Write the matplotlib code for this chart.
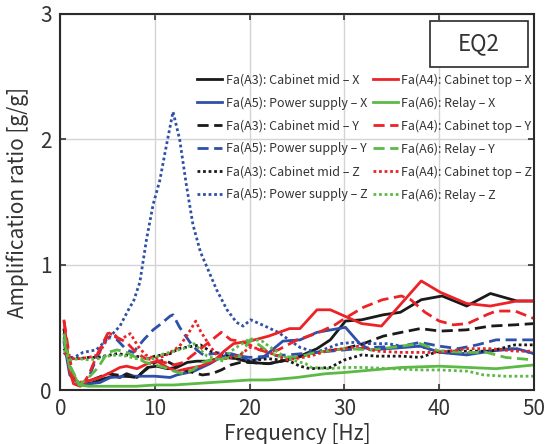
import matplotlib
matplotlib.use("Agg")
import matplotlib.pyplot as plt
from matplotlib.patches import Rectangle

plt.rcParams.update({
    "font.family": ["Noto Sans CJK KR", "DejaVu Sans"],
    "font.size": 12,
    "text.color": "#333333",
    "axes.labelcolor": "#333333",
    "xtick.color": "#333333",
    "ytick.color": "#333333",
})

BLACK = "#1a1a1a"
RED = "#ec2227"
BLUE = "#2f4fa8"
GREEN = "#5cb946"

# A3 cabinet mid
f_a3x = [0.4, 1, 2, 3.5, 4.6, 5.6, 6.3, 7, 8.1, 9.2, 10.2, 11.3, 12.3, 13.4, 14.4, 15.5, 17.3, 18.7,
         20, 22, 24, 25.3, 27.1, 28.5, 30.1, 31.8, 34.1, 35.9, 38.1, 40.3, 42.9, 45.4, 48.2, 50]
a3x = [0.48, 0.15, 0.04, 0.06, 0.09, 0.11, 0.10, 0.13, 0.10, 0.18, 0.19, 0.17, 0.18, 0.22, 0.23, 0.23,
       0.26, 0.25, 0.22, 0.21, 0.24, 0.27, 0.33, 0.40, 0.55, 0.56, 0.60, 0.62, 0.72, 0.75, 0.67, 0.77, 0.71, 0.71]
f_a3y = [0.4, 1, 2, 3, 4, 5, 6, 7, 8, 9, 10, 11, 12, 13, 14, 15, 16, 17, 18, 19, 20, 22, 24, 27, 30, 32,
         34.1, 36, 38, 40.1, 42.9, 45.4, 48, 50]
a3y = [0.45, 0.18, 0.05, 0.07, 0.10, 0.13, 0.12, 0.11, 0.10, 0.16, 0.22, 0.24, 0.20, 0.16, 0.14, 0.12, 0.13,
       0.16, 0.20, 0.22, 0.22, 0.21, 0.24, 0.30, 0.33, 0.37, 0.43, 0.46, 0.49, 0.47, 0.48, 0.51, 0.52, 0.53]
f_a3z = [0.4, 1, 2, 3, 4, 4.6, 6, 7, 8, 9.2, 10, 11.6, 12.5, 14, 14.8, 15.8, 16.9, 18, 19.7, 22, 24.2,
         25.3, 26.4, 28.5, 30, 31.8, 33.4, 36, 38, 40, 42.9, 45.4, 48, 50]
a3z = [0.33, 0.26, 0.25, 0.26, 0.26, 0.27, 0.29, 0.28, 0.27, 0.25, 0.27, 0.29, 0.33, 0.35, 0.36, 0.31, 0.29,
       0.26, 0.23, 0.25, 0.23, 0.19, 0.17, 0.18, 0.24, 0.28, 0.27, 0.27, 0.26, 0.31, 0.31, 0.31, 0.36, 0.36]

# A4 cabinet top
f_a4x = [0.4, 1, 1.4, 2.1, 2.8, 4.2, 5.3, 6.3, 7, 8.1, 9.2, 10.2, 11.3, 12.3, 13.4, 14.8, 16.2, 17.3, 18.3,
         20, 22, 24.2, 25.3, 27.1, 28.5, 31.8, 33.9, 38.1, 40.1, 42.9, 45.4, 48.2, 50]
a4x = [0.55, 0.15, 0.05, 0.03, 0.07, 0.10, 0.14, 0.18, 0.19, 0.17, 0.21, 0.23, 0.18, 0.15, 0.17, 0.19, 0.23,
       0.31, 0.37, 0.39, 0.43, 0.49, 0.49, 0.64, 0.64, 0.53, 0.51, 0.87, 0.78, 0.69, 0.67, 0.71, 0.71]
f_a4y = [0.4, 1, 1.5, 2.5, 3, 4, 5, 5.5, 6, 7, 8, 9, 10, 11, 12, 13, 14, 15, 16, 17, 18, 19, 20, 21, 22,
         23, 25, 27, 29, 30, 32, 34, 36, 37, 38.5, 40, 41.5, 43, 45, 46, 48, 50]
a4y = [0.55, 0.25, 0.07, 0.06, 0.12, 0.30, 0.45, 0.46, 0.42, 0.38, 0.30, 0.25, 0.24, 0.22, 0.20, 0.22, 0.28,
       0.34, 0.40, 0.46, 0.40, 0.39, 0.36, 0.32, 0.30, 0.32, 0.40, 0.45, 0.52, 0.57, 0.66, 0.72, 0.75, 0.72,
       0.62, 0.55, 0.52, 0.53, 0.60, 0.63, 0.63, 0.57]
f_a4z = [0.4, 1, 2, 3, 4, 5.3, 6.3, 7.4, 8.2, 9, 10, 11, 11.6, 12.6, 13.5, 14.3, 14.8, 15.8, 16.5, 17.5,
         19, 20, 21, 22, 24, 26.4, 28.5, 30.1, 31.5, 33.4, 36, 38, 40, 42.9, 45.4, 48, 50]
a4z = [0.30, 0.25, 0.25, 0.26, 0.28, 0.45, 0.40, 0.45, 0.35, 0.28, 0.25, 0.27, 0.30, 0.35, 0.45, 0.55, 0.47,
       0.35, 0.28, 0.25, 0.28, 0.34, 0.33, 0.30, 0.24, 0.27, 0.32, 0.33, 0.35, 0.31, 0.30, 0.30, 0.30, 0.33,
       0.33, 0.31, 0.31]

# A5 power supply
f_a5x = [0.4, 1, 2.1, 4.2, 5.3, 7, 8.8, 10, 11.6, 12.3, 14.1, 15.8, 16.9, 18, 19, 20, 21.4, 23.5, 25.3,
         27.1, 30.1, 31.6, 32.7, 34.6, 38, 40.1, 42.9, 45.4, 48.2, 50]
a5x = [0.38, 0.12, 0.04, 0.06, 0.10, 0.11, 0.11, 0.11, 0.10, 0.12, 0.15, 0.21, 0.26, 0.29, 0.27, 0.23, 0.26,
       0.39, 0.40, 0.46, 0.50, 0.37, 0.32, 0.33, 0.35, 0.30, 0.28, 0.31, 0.33, 0.29]
f_a5y = [0.4, 1, 2, 2.8, 3.8, 4.9, 6.0, 7.0, 7.7, 8.8, 9.8, 10.5, 11.6, 11.9, 12.6, 13.7, 14.4, 15.1, 16.2,
         17.2, 18, 20, 22, 24, 27, 30, 33, 36, 38, 40, 42, 44, 46, 48, 50]
a5y = [0.42, 0.15, 0.05, 0.06, 0.25, 0.42, 0.40, 0.32, 0.30, 0.40, 0.48, 0.52, 0.59, 0.60, 0.50, 0.38, 0.32,
       0.28, 0.29, 0.30, 0.28, 0.26, 0.27, 0.28, 0.30, 0.32, 0.34, 0.35, 0.38, 0.35, 0.33, 0.36, 0.40, 0.40, 0.40]
f_a5z = [0.4, 1, 2.4, 3.8, 5.3, 6.3, 7.4, 7.7, 8.4, 9.1, 9.8, 10.5, 11.2, 11.9, 12.6, 13.3, 14.0, 14.8,
         15.6, 16.5, 17.6, 18.6, 19.3, 20.1, 21.6, 23, 25.3, 27, 29.5, 31, 32.7, 34.6, 36, 38, 40, 43,
         45.4, 48, 50]
a5z = [0.30, 0.24, 0.30, 0.32, 0.43, 0.51, 0.67, 0.70, 0.86, 1.20, 1.48, 1.67, 1.95, 2.22, 2.00, 1.64, 1.32,
       1.10, 0.96, 0.80, 0.64, 0.54, 0.51, 0.56, 0.51, 0.46, 0.34, 0.30, 0.37, 0.38, 0.37, 0.37, 0.35, 0.35,
       0.30, 0.29, 0.32, 0.33, 0.29]

# A6 relay
f_a6x = [0.4, 1, 2, 3, 5, 8, 10, 12, 14, 16, 18, 20, 22, 25, 28, 30, 33, 36, 40, 43, 46, 50]
a6x = [0.40, 0.18, 0.04, 0.03, 0.03, 0.03, 0.04, 0.04, 0.05, 0.06, 0.07, 0.08, 0.08, 0.10, 0.13, 0.14, 0.16,
       0.18, 0.19, 0.18, 0.17, 0.20]
f_a6y = [0.4, 1, 2, 3, 4, 5, 6, 7, 8, 9, 10, 11, 12, 13, 14, 15, 16, 17, 18, 19, 20, 21, 22, 23, 25, 27,
         30, 33, 36, 38, 40, 43, 45, 47, 50]
a6y = [0.45, 0.20, 0.04, 0.10, 0.18, 0.30, 0.32, 0.30, 0.26, 0.22, 0.20, 0.18, 0.15, 0.13, 0.16, 0.22, 0.24,
       0.25, 0.26, 0.27, 0.40, 0.36, 0.30, 0.27, 0.26, 0.30, 0.33, 0.32, 0.35, 0.37, 0.31, 0.30, 0.30, 0.26, 0.24]
f_a6z = [0.4, 1, 2, 3, 4, 5, 6, 7, 8, 9, 10, 10.5, 12, 13, 14.1, 15.5, 17.2, 18, 19, 20, 21.3, 22, 23, 24,
         25.9, 26.5, 28.3, 30, 32, 35, 38, 40, 43, 44.7, 47, 50]
a6z = [0.32, 0.24, 0.25, 0.24, 0.25, 0.27, 0.28, 0.27, 0.25, 0.25, 0.25, 0.28, 0.31, 0.33, 0.37, 0.27, 0.23,
       0.31, 0.36, 0.41, 0.39, 0.35, 0.30, 0.25, 0.21, 0.18, 0.17, 0.18, 0.18, 0.17, 0.16, 0.16, 0.15, 0.12,
       0.11, 0.11]

SOLID = "-"
DASH = (0, (4, 2))
DOT = (0, (1, 1))

series = [
    (f_a3x, a3x, BLACK, SOLID, "Fa(A3): Cabinet mid – X"),
    (f_a5x, a5x, BLUE, SOLID, "Fa(A5): Power supply – X"),
    (f_a3y, a3y, BLACK, DASH, "Fa(A3): Cabinet mid – Y"),
    (f_a5y, a5y, BLUE, DASH, "Fa(A5): Power supply – Y"),
    (f_a3z, a3z, BLACK, DOT, "Fa(A3): Cabinet mid – Z"),
    (f_a5z, a5z, BLUE, DOT, "Fa(A5): Power supply – Z"),
    (f_a4x, a4x, RED, SOLID, "Fa(A4): Cabinet top – X"),
    (f_a6x, a6x, GREEN, SOLID, "Fa(A6): Relay – X"),
    (f_a4y, a4y, RED, DASH, "Fa(A4): Cabinet top – Y"),
    (f_a6y, a6y, GREEN, DASH, "Fa(A6): Relay – Y"),
    (f_a4z, a4z, RED, DOT, "Fa(A4): Cabinet top – Z"),
    (f_a6z, a6z, GREEN, DOT, "Fa(A6): Relay – Z"),
]

fig = plt.figure(figsize=(5.56, 4.44), dpi=100)
ax = fig.add_axes([0.1084, 0.1216, 0.852, 0.847])

for f, v, c, ls, lab in series:
    ax.plot(f, v, color=c, linestyle=ls, linewidth=2.0, label=lab)

ax.set_xlim(0, 50)
ax.set_ylim(0, 3)
ax.set_xticks([0, 10, 20, 30, 40, 50])
ax.set_yticks([0, 1, 2, 3])
ax.grid(True, color="#d4d4d4", linewidth=1.0)
ax.set_axisbelow(True)
ax.tick_params(direction="in", length=4, width=1.2, labelsize=15, top=True, right=True, pad=6)
for sp in ax.spines.values():
    sp.set_linewidth(1.5)
    sp.set_color("#2a2a2a")

ax.set_xlabel("Frequency [Hz]", fontsize=15, labelpad=2)
ax.set_ylabel("Amplification ratio [g/g]", fontsize=15, labelpad=8)

ax.add_patch(Rectangle((0.781, 0.859), 0.206, 0.122, transform=ax.transAxes,
                       fill=True, facecolor="white", edgecolor="#2a2a2a", linewidth=1.2, zorder=5))
ax.text(0.884, 0.92, "EQ2", transform=ax.transAxes, ha="center", va="center", fontsize=16, zorder=6)

leg = ax.legend(loc="upper left", bbox_to_anchor=(0.289, 0.842), ncol=2, frameon=False,
                fontsize=9, handlelength=2.0, handletextpad=0.3, columnspacing=0.4,
                labelspacing=0.78, borderaxespad=0, borderpad=0)

fig.savefig("out.png", dpi=100)
